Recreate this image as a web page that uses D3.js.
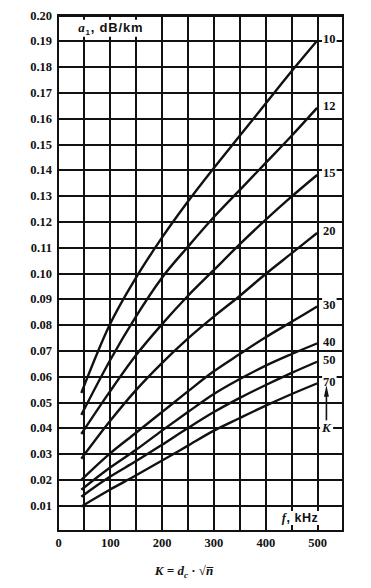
<!DOCTYPE html>
<html>
<head>
<meta charset="utf-8">
<script src="https://cdn.jsdelivr.net/npm/d3@7"></script>
<style>
body { margin: 0; background: #fff; }
svg { display: block; }
.tick text { font-family: "Liberation Serif", serif; font-weight: bold; font-size: 12.5px; fill: #111; }
</style>
</head>
<body>
<svg id="chart"></svg>
<script>
// frequency points (kHz) the curves were read at
let freqs = [45, 100, 150, 200, 250, 300, 350, 400, 450, 500]

// a1 in dB/km, one array per K
let k10 = [0.0535, 0.080, 0.098, 0.1135, 0.1275, 0.1405, 0.153, 0.1655, 0.178, 0.190]
let k12 = [0.045, 0.066, 0.083, 0.098, 0.110, 0.1215, 0.132, 0.1425, 0.153, 0.164]
let k15 = [0.0376, 0.054, 0.068, 0.080, 0.091, 0.101, 0.111, 0.1205, 0.1295, 0.138]
let k20 = [0.028, 0.0425, 0.0545, 0.065, 0.0745, 0.083, 0.091, 0.0995, 0.1075, 0.1155]
let k30 = [0.0198, 0.030, 0.038, 0.046, 0.054, 0.0618, 0.0685, 0.075, 0.081, 0.087]
let k40 = [0.016, 0.0245, 0.0314, 0.0388, 0.046, 0.053, 0.0588, 0.064, 0.0685, 0.0727]
let k50 = [0.0133, 0.021, 0.027, 0.0333, 0.0398, 0.046, 0.0515, 0.0565, 0.0612, 0.0656]
let k70 = [0.0095, 0.016, 0.0215, 0.0272, 0.033, 0.0388, 0.0437, 0.0485, 0.053, 0.0572]

let kNames = ["10", "12", "15", "20", "30", "40", "50", "70"]
let kSeries = [k10, k12, k15, k20, k30, k40, k50, k70]

let xTicks = [0, 100, 200, 300, 400, 500]
let xGrid = [50, 100, 150, 200, 250, 300, 350, 400, 450, 500]
let yTicks = [0.01, 0.02, 0.03, 0.04, 0.05, 0.06, 0.07, 0.08, 0.09, 0.10,
              0.11, 0.12, 0.13, 0.14, 0.15, 0.16, 0.17, 0.18, 0.19, 0.20]

let width = 371
let height = 588
let plotLeft = 58
let plotRight = 343
let plotTop = 15
let plotBottom = 531
let ink = "#111"

let svg = d3.select("#chart")
svg.attr("width", width)
svg.attr("height", height)

let xScale = d3.scaleLinear().domain([0, 550]).range([plotLeft, plotRight])
let yScale = d3.scaleLinear().domain([0, 0.2]).range([plotBottom, plotTop])

// vertical grid
svg.append("g")
    .attr("transform", "translate(0," + plotBottom + ")")
    .call(d3.axisBottom(xScale).tickValues(xGrid).tickSize(-(plotBottom - plotTop)).tickFormat(""))
    .call(g => g.select(".domain").remove())
    .selectAll("line").attr("stroke", ink).attr("stroke-width", 2).attr("shape-rendering", "crispEdges")

// horizontal grid + labels
svg.append("g")
    .attr("transform", "translate(" + plotLeft + ",0)")
    .call(d3.axisLeft(yScale).tickValues(yTicks).tickSize(-(plotRight - plotLeft)).tickPadding(6).tickFormat(d3.format(".2f")))
    .call(g => g.select(".domain").remove())
    .selectAll("line").attr("stroke", ink).attr("stroke-width", 2).attr("shape-rendering", "crispEdges")

// x labels
svg.append("g")
    .attr("transform", "translate(0," + plotBottom + ")")
    .call(d3.axisBottom(xScale).tickValues(xTicks).tickSize(0).tickPadding(7).tickFormat(d3.format("d")))
    .call(g => g.select(".domain").remove())

// frame
svg.append("rect")
    .attr("x", plotLeft).attr("y", plotTop)
    .attr("width", plotRight - plotLeft).attr("height", plotBottom - plotTop)
    .attr("fill", "none").attr("stroke", ink).attr("stroke-width", 2.2)
    .attr("shape-rendering", "crispEdges")

// white box behind a text node
let backIt = (node, pad) => {
    let b = node.getBBox()
    d3.select(node.parentNode).insert("rect", () => node)
        .attr("x", b.x - pad).attr("y", b.y)
        .attr("width", b.width + 2 * pad).attr("height", b.height)
        .attr("fill", "#fff")
}

// curves
let line = d3.line()
    .x((d, i) => xScale(freqs[i]))
    .y(d => yScale(d))
    .curve(d3.curveMonotoneX)

svg.selectAll(".curve")
    .data(kSeries)
    .enter()
    .append("path")
    .attr("class", "curve")
    .attr("d", line)
    .attr("fill", "none")
    .attr("stroke", ink)
    .attr("stroke-width", 2.4)

// K labels at line ends
let labels = svg.append("g")
kSeries.forEach((s, i) => {
    let t = labels.append("text")
        .attr("x", xScale(freqs[freqs.length - 1]) + 6)
        .attr("y", yScale(s[s.length - 1]) - 2)
        .attr("dy", "0.35em")
        .attr("font-family", "Liberation Serif, serif")
        .attr("font-weight", "bold")
        .attr("font-size", 12.5)
        .attr("fill", ink)
        .text(kNames[i])
    backIt(t.node(), 1)
})

// arrow pointing to increasing K
let ax = xScale(518)
svg.append("line")
    .attr("x1", ax).attr("x2", ax)
    .attr("y1", yScale(0.0425)).attr("y2", yScale(0.053))
    .attr("stroke", ink).attr("stroke-width", 1.6)
svg.append("path")
    .attr("d", d3.line()([[ax - 2.5, yScale(0.052)], [ax, yScale(0.0565)], [ax + 2.5, yScale(0.052)]]))
    .attr("fill", ink)
let kt = svg.append("text")
    .attr("x", ax).attr("y", yScale(0.04))
    .attr("dy", "0.35em")
    .attr("text-anchor", "middle")
    .attr("font-family", "Liberation Serif, serif")
    .attr("font-style", "italic")
    .attr("font-weight", "bold")
    .attr("font-size", 13)
    .attr("fill", ink)
    .text("K")
backIt(kt.node(), 1)

// y title
let yt = svg.append("text")
    .attr("x", xScale(39)).attr("y", yScale(0.1935))
    .attr("font-family", "Liberation Sans, sans-serif")
    .attr("font-weight", "bold")
    .attr("font-size", 13)
    .attr("letter-spacing", 0.8)
    .attr("fill", ink)
yt.append("tspan").attr("font-family", "Liberation Serif, serif").attr("font-style", "italic").text("a")
yt.append("tspan").attr("font-size", 8).attr("dy", 3).text("1")
yt.append("tspan").attr("dy", -3).text(", dB/km")
backIt(yt.node(), 2)

// x title
let xt = svg.append("text")
    .attr("x", xScale(432)).attr("y", yScale(0.0035))
    .attr("font-family", "Liberation Sans, sans-serif")
    .attr("font-weight", "bold")
    .attr("font-size", 12.5)
    .attr("letter-spacing", 0.5)
    .attr("fill", ink)
xt.append("tspan").attr("font-family", "Liberation Serif, serif").attr("font-style", "italic").text("f")
xt.append("tspan").text(",  kHz")
backIt(xt.node(), 2)

// caption under chart
let cap = svg.append("text")
    .attr("x", 184).attr("y", 575)
    .attr("text-anchor", "middle")
    .attr("font-family", "Liberation Serif, serif")
    .attr("font-weight", "bold")
    .attr("font-style", "italic")
    .attr("font-size", 13)
    .attr("fill", ink)
cap.append("tspan").text("K = d")
cap.append("tspan").attr("font-size", 9).attr("dy", 3).text("c")
cap.append("tspan").attr("dy", -3).attr("font-style", "normal").text(" \u00b7 \u221a")
cap.append("tspan").text("n\u0305")
</script>
</body>
</html>
